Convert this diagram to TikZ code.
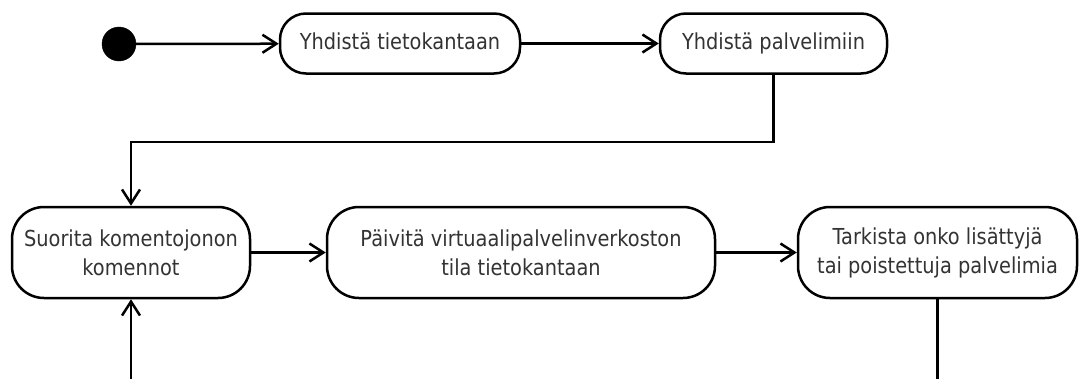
\documentclass[tikz,border=0pt]{standalone}
\usepackage{fontspec}
\setmainfont[FakeStretch=0.88]{DejaVu Sans}
\usetikzlibrary{arrows.meta}
\tikzset{
  action/.style={draw=black, line width=2.5pt, fill=white,
    align=center, text=black!80, inner sep=0pt,
    font=\fontsize{22}{29}\selectfont},
  shortaction/.style={action, rounded corners=26pt, minimum height=60pt, text depth=5pt},
  tallaction/.style={action, rounded corners=32pt, minimum height=91pt},
  flow/.style={line width=2.5pt, draw=black},
  arr/.style={flow, -{Straight Barb[length=14pt,width=18pt,line width=2.5pt]}},
  startdot/.style={circle, fill=black, draw=black, minimum size=34pt, inner sep=0pt}
}
\begin{document}
\begin{tikzpicture}[x=1pt,y=-1pt]
  \useasboundingbox (0,0) rectangle (1090,378);
  % initial state
  \node[startdot] (start) at (119,44) {};
  % actions
  \node[shortaction, minimum width=240pt] (n1) at (400,43.5) {Yhdistä tietokantaan};
  \node[shortaction, minimum width=227pt] (n2) at (773.5,43.5) {Yhdistä palvelimiin};
  \node[tallaction, minimum width=238pt] (n3) at (131,252.5) {Suorita komentojonon\\komennot};
  \node[tallaction, minimum width=388pt] (n4) at (521,252.5) {Päivitä virtuaalipalvelinverkoston\\tila tietokantaan};
  \node[tallaction, minimum width=279pt] (n5) at (937.5,252.5) {Tarkista onko lisättyjä\\tai poistettuja palvelimia};
  % routing points
  \coordinate (jr) at (773.5,142);
  \coordinate (jl) at (131,142);
  \coordinate (e5) at (937.5,382);
  \coordinate (e3) at (131,382);
  % connectors
  \draw[arr] (start) -- (n1);
  \draw[arr] (n1) -- (n2);
  \draw[arr] (n2.south) -- (jr) -- (jl) -- (n3.north);
  \draw[arr] (n3) -- (n4);
  \draw[arr] (n4) -- (n5);
  \draw[flow] (n5.south) -- (e5);
  \draw[arr] (e3) -- (n3.south);
\end{tikzpicture}
\end{document}
